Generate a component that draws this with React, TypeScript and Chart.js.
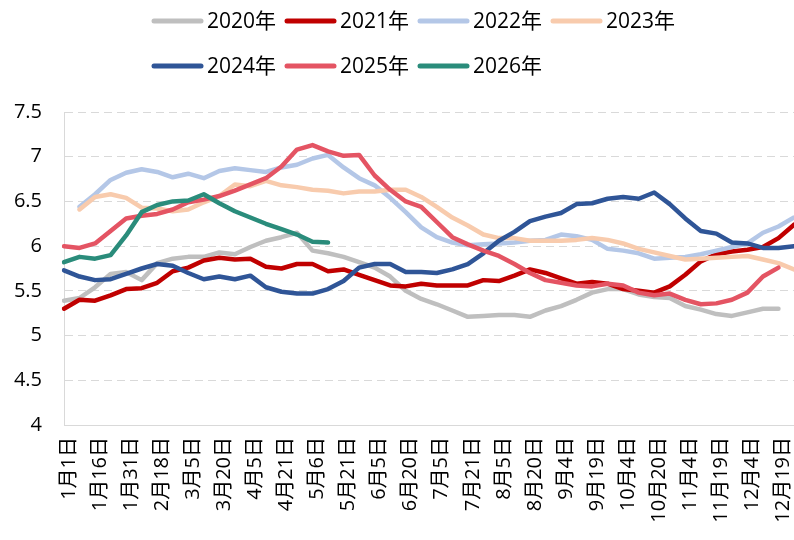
import React, { useEffect, useRef } from "react";
import { Chart, registerables } from "chart.js";

Chart.register(...registerables);

// ---- data ----
const categories = [
  "1月1日", "1月8日", "1月16日", "1月23日", "1月31日", "2月9日", "2月18日", "2月25日",
  "3月5日", "3月12日", "3月20日", "3月27日", "4月5日", "4月13日", "4月21日", "4月28日",
  "5月6日", "5月13日", "5月21日", "5月28日", "6月5日", "6月12日", "6月20日", "6月27日",
  "7月5日", "7月13日", "7月21日", "7月28日", "8月5日", "8月12日", "8月20日", "8月27日",
  "9月4日", "9月11日", "9月19日", "9月26日", "10月4日", "10月12日", "10月20日", "10月27日",
  "11月4日", "11月11日", "11月19日", "11月26日", "12月4日", "12月11日", "12月19日", "12月26日",
];
const labelEvery = 2;

const seriesNames = ["2020年", "2021年", "2022年", "2023年", "2024年", "2025年", "2026年"];

const y2020 = [5.39, 5.42, 5.54, 5.69, 5.71, 5.62, 5.81, 5.86, 5.88, 5.88, 5.93, 5.91, 5.99, 6.06, 6.10, 6.15, 5.95, 5.92, 5.88, 5.82, 5.76, 5.66, 5.50, 5.41, 5.35, 5.28, 5.21, 5.22, 5.23, 5.23, 5.21, 5.28, 5.33, 5.40, 5.48, 5.52, 5.52, 5.46, 5.43, 5.42, 5.33, 5.29, 5.24, 5.22, 5.26, 5.30, 5.30, null];
const y2021 = [5.30, 5.40, 5.39, 5.45, 5.52, 5.53, 5.59, 5.72, 5.76, 5.84, 5.87, 5.85, 5.86, 5.77, 5.75, 5.80, 5.80, 5.72, 5.74, 5.68, 5.62, 5.56, 5.55, 5.58, 5.56, 5.56, 5.56, 5.62, 5.61, 5.67, 5.74, 5.70, 5.64, 5.58, 5.60, 5.58, 5.52, 5.50, 5.48, 5.55, 5.68, 5.83, 5.91, 5.94, 5.96, 5.99, 6.09, 6.24];
const y2022 = [null, 6.44, 6.58, 6.74, 6.82, 6.86, 6.83, 6.77, 6.81, 6.76, 6.84, 6.87, 6.85, 6.83, 6.88, 6.91, 6.98, 7.02, 6.88, 6.76, 6.68, 6.54, 6.38, 6.21, 6.10, 6.04, 6.01, 6.02, 6.03, 6.04, 6.06, 6.07, 6.13, 6.11, 6.07, 5.97, 5.95, 5.92, 5.86, 5.87, 5.88, 5.91, 5.95, 5.99, 6.03, 6.15, 6.22, 6.32];
const y2023 = [null, 6.41, 6.55, 6.58, 6.54, 6.43, 6.42, 6.39, 6.41, 6.49, 6.56, 6.69, 6.67, 6.73, 6.68, 6.66, 6.63, 6.62, 6.59, 6.61, 6.61, 6.63, 6.63, 6.55, 6.44, 6.32, 6.23, 6.13, 6.09, 6.09, 6.06, 6.06, 6.06, 6.07, 6.09, 6.07, 6.03, 5.97, 5.93, 5.89, 5.85, 5.86, 5.87, 5.88, 5.89, 5.85, 5.81, 5.74];
const y2024 = [5.73, 5.66, 5.62, 5.63, 5.69, 5.75, 5.80, 5.78, 5.70, 5.63, 5.66, 5.63, 5.67, 5.54, 5.49, 5.47, 5.47, 5.52, 5.61, 5.76, 5.80, 5.80, 5.71, 5.71, 5.70, 5.74, 5.80, 5.92, 6.06, 6.16, 6.28, 6.33, 6.37, 6.47, 6.48, 6.53, 6.55, 6.53, 6.60, 6.47, 6.31, 6.17, 6.14, 6.04, 6.03, 5.98, 5.98, 6.00];
const y2025 = [6.00, 5.98, 6.03, 6.17, 6.31, 6.34, 6.36, 6.41, 6.49, 6.52, 6.56, 6.62, 6.69, 6.76, 6.89, 7.08, 7.13, 7.06, 7.01, 7.02, 6.79, 6.63, 6.50, 6.44, 6.27, 6.10, 6.02, 5.95, 5.89, 5.80, 5.70, 5.62, 5.59, 5.56, 5.55, 5.58, 5.56, 5.48, 5.45, 5.47, 5.40, 5.35, 5.36, 5.40, 5.48, 5.66, 5.76, null];
const y2026 = [5.82, 5.88, 5.86, 5.90, 6.12, 6.38, 6.46, 6.50, 6.51, 6.58, 6.48, 6.39, 6.32, 6.25, 6.19, 6.13, 6.05, 6.04];

const seriesValues = [y2020, y2021, y2022, y2023, y2024, y2025, y2026];
const seriesColors = ["#BFBFBF", "#C00000", "#B4C7E7", "#F8CBAD", "#2F5597", "#E45463", "#2A8C7B"];

const yTicks = { min: 4, max: 7.5, step: 0.5 };

const FONT = "'Open Sans', 'Noto Sans CJK SC', sans-serif";

const gridLegend = {
  id: "gridLegend",
  afterDraw(chart: any) {
    const ctx = chart.ctx;
    const left = 152, colW = 133, top = 21, rowH = 45, perRow = 4;
    chart.data.datasets.forEach((ds: any, i: number) => {
      const col = i % perRow;
      const row = Math.floor(i / perRow);
      const x = left + col * colW;
      const y = top + row * rowH;
      ctx.save();
      ctx.strokeStyle = ds.borderColor;
      ctx.lineWidth = 5;
      ctx.lineCap = "round";
      ctx.beginPath();
      ctx.moveTo(x + 2, y);
      ctx.lineTo(x + 49, y);
      ctx.stroke();
      ctx.fillStyle = "#000000";
      ctx.font = `21px ${FONT}`;
      ctx.textBaseline = "middle";
      ctx.textAlign = "left";
      ctx.fillText(ds.label, x + 55, y + 1);
      ctx.restore();
    });
  },
};

export default function App() {
  const ref = useRef<HTMLCanvasElement | null>(null);

  useEffect(() => {
    if (!ref.current) return;
    const datasets = seriesNames.map((name, i) => ({
      label: name,
      data: seriesValues[i],
      borderColor: seriesColors[i],
      backgroundColor: seriesColors[i],
      borderWidth: 4.5,
      pointRadius: 0,
      pointHoverRadius: 0,
      tension: 0,
      fill: false,
      spanGaps: false,
      borderCapStyle: "round" as const,
      borderJoinStyle: "round" as const,
      order: seriesNames.length - i,
    }));

    const chart = new Chart(ref.current, {
      type: "line",
      data: { labels: categories, datasets },
      plugins: [gridLegend],
      options: {
        animation: false,
        responsive: true,
        maintainAspectRatio: false,
        layout: { padding: { top: 112, left: 0, right: 0, bottom: 0 } },
        plugins: {
          legend: { display: false },
          tooltip: { enabled: false },
          title: { display: false },
        },
        scales: {
          x: {
            type: "category",
            offset: false,
            grid: { display: false, drawTicks: false },
            border: { display: true, color: "#D9D9D9", width: 1 },
            ticks: {
              autoSkip: false,
              maxRotation: 90,
              minRotation: 90,
              padding: 12,
              labelOffset: 5,
              color: "#000000",
              font: { family: FONT, size: 20 },
              callback: function (this: any, value: any, index: number) {
                return index % labelEvery === 0 ? categories[index] : "";
              },
            },
            afterFit: (s: any) => {
              s.height = 115;
              s.paddingRight = 0;
              s.paddingLeft = 0;
            },
          },
          y: {
            min: yTicks.min,
            max: yTicks.max,
            grid: { color: "#D9D9D9", lineWidth: 1, drawTicks: false },
            border: { display: true, color: "#D9D9D9", width: 1, dash: [8, 5] },
            ticks: {
              stepSize: yTicks.step,
              padding: 22,
              color: "#000000",
              font: { family: FONT, size: 20 },
              callback: (value: any) => String(Math.round(Number(value) * 10) / 10),
            },
            afterFit: (s: any) => {
              s.width = 64;
            },
          },
        },
      },
    });
    return () => chart.destroy();
  }, []);

  return (
    <div style={{ position: "fixed", left: 0, top: 0, width: 794, height: 540, background: "#fff", overflow: "hidden" }}>
      <canvas ref={ref} />
    </div>
  );
}
